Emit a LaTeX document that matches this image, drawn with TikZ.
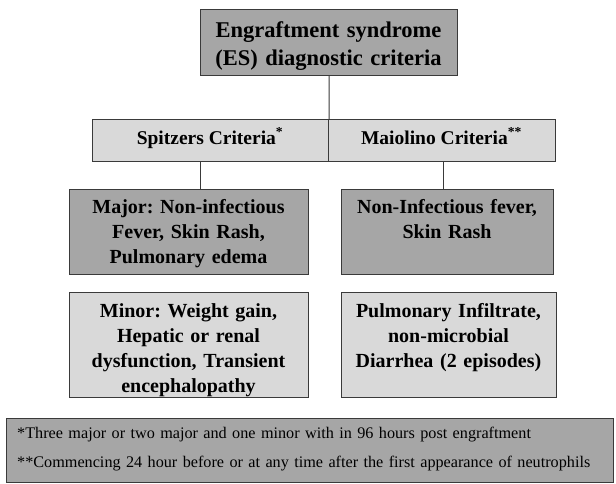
\documentclass[tikz,border=0pt]{standalone}
\usepackage{fontspec}
\setmainfont{Liberation Serif}
\frenchspacing
\definecolor{darkfill}{HTML}{A6A6A6}
\definecolor{lightfill}{HTML}{D9D9D9}
\definecolor{edgecol}{HTML}{3A3A3A}
\begin{document}
\begin{tikzpicture}[x=1pt,y=-1pt,
  box/.style={draw=edgecol, line width=1.1pt, inner sep=0pt, anchor=north west},
  darkbox/.style={box, fill=darkfill},
  lightbox/.style={box, fill=lightfill},
  txt/.style={anchor=base, inner sep=0pt, align=center, font=\bfseries\fontsize{20}{25}\selectfont},
  link/.style={draw=edgecol, line width=0.9pt}]
\useasboundingbox[fill=white] (0,0) rectangle (616,483);
% boxes
\node[darkbox, minimum width=257pt, minimum height=66pt] (top) at (200,9) {};
\node[lightbox, minimum width=236pt, minimum height=42pt] (barL) at (92,119) {};
\node[lightbox, minimum width=227pt, minimum height=42pt] (barR) at (328,119) {};
\node[darkbox, minimum width=239pt, minimum height=85pt] (major) at (69,189) {};
\node[darkbox, minimum width=212pt, minimum height=85pt] (mmaj) at (341,189) {};
\node[lightbox, minimum width=239pt, minimum height=105pt] (minor) at (69,292) {};
\node[lightbox, minimum width=215pt, minimum height=105pt] (pulm) at (341,292) {};
\node[darkbox, minimum width=607pt, minimum height=64pt] (foot) at (6,418) {};
% connectors
\coordinate (spA) at (200,161);
\coordinate (maA) at (443,161);
\draw[link] (top.south) -- (barL.north east);
\draw[link] (spA) -- (spA |- major.north);
\draw[link] (maA) -- (maA |- mmaj.north);
% texts
\node[txt, font=\bfseries\fontsize{22.5}{28}\selectfont, text width=250pt] (topt) at (328.5,37) {Engraftment syndrome\\(ES) diagnostic criteria};
\node[txt, font=\bfseries\fontsize{19.5}{24}\selectfont] (barLt) at (210,144) {Spitzers Criteria\textsuperscript{*}};
\node[txt, font=\bfseries\fontsize{19.5}{24}\selectfont] (barRt) at (441.5,144) {Maiolino Criteria\textsuperscript{**}};
\node[txt, text width=235pt] (majort) at (188.5,213) {Major: Non-infectious\\Fever, Skin Rash,\\Pulmonary edema};
\node[txt, text width=210pt] (mmajt) at (447,213) {Non-Infectious fever,\\Skin Rash};
\begin{scope}
\clip (minor.north west) rectangle (minor.south east);
\node[txt, text width=235pt] (minort) at (188.5,317) {Minor: Weight gain,\\Hepatic or renal\\dysfunction, Transient\\encephalopathy};
\end{scope}
\node[txt, text width=210pt] (pulmt) at (448.5,317) {Pulmonary Infiltrate,\\non-microbial\\Diarrhea (2 episodes)};
\node[anchor=base west, inner sep=0pt, font=\fontsize{16.2}{29}\selectfont, align=left, text width=590pt] (foott) at (17,438) {*Three major or two major and one minor with in 96 hours post engraftment\\{}**Commencing 24 hour before or at any time after the first appearance of neutrophils};
\end{tikzpicture}
\end{document}
